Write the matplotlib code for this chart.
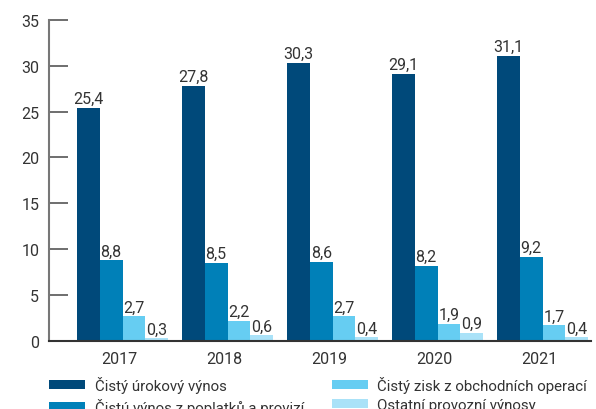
import numpy as np
import matplotlib.pyplot as plt

plt.rcParams.update({'font.size': 11.5, 'font.family': ['Roboto', 'DejaVu Sans']})

years = ['2017', '2018', '2019', '2020', '2021']
urokovy = [25.4, 27.8, 30.3, 29.1, 31.1]
poplatky = [8.8, 8.5, 8.6, 8.2, 9.2]
obchodni = [2.7, 2.2, 2.7, 1.9, 1.7]
ostatni = [0.3, 0.6, 0.4, 0.9, 0.4]

series = [urokovy, poplatky, obchodni, ostatni]
names = ['Čistý úrokový výnos', 'Čistú výnos z poplatků a provizí',
         'Čistý zisk z obchodních operací', 'Ostatní provozní výnosy']
colors = ['#00497a', '#0080b8', '#66cdf2', '#aae2f8']
txt = '#333333'

fig = plt.figure(figsize=(5.96, 4.10), dpi=100)
ax = fig.add_axes([0.0822, 0.166, 0.9094, 0.783])

x = np.arange(len(years))
w = 0.217
handles = []
for i, (vals, c) in enumerate(zip(series, colors)):
    pos = x + (i - 1.5) * w
    b = ax.bar(pos, vals, width=w, color=c, label=names[i])
    handles.append(b)
    for p, v in zip(pos, vals):
        ax.text(p, v + 0.2, f'{v:.1f}'.replace('.', ','), ha='center', va='bottom',
                color=txt, fontsize=11.5)

ax.set_xlim(-0.7, 4.46)
ax.set_ylim(0, 35)
ax.set_yticks(range(0, 36, 5))
ax.set_xticks(x - 0.03)
ax.set_xticklabels(years)
ax.tick_params(axis='x', length=0, pad=7, colors=txt)
ax.tick_params(axis='y', direction='in', length=14, width=1.2, color='#555555',
               pad=7, labelcolor=txt)
for s in ['top', 'right']:
    ax.spines[s].set_visible(False)
ax.spines['left'].set_color('#777777')
ax.spines['left'].set_linewidth(1.5)
ax.spines['bottom'].set_color('#333333')
ax.spines['bottom'].set_linewidth(1.5)

leg = fig.legend(handles=handles, labels=names, ncol=2, loc='upper left',
                 bbox_to_anchor=(0.082, 0.08), frameon=False, fontsize=10.8,
                 handlelength=2.4, handleheight=0.55, handletextpad=0.65,
                 columnspacing=1.85, labelspacing=0.3, labelcolor=txt,
                 borderaxespad=0, borderpad=0)

fig.savefig('out.png', dpi=100)
